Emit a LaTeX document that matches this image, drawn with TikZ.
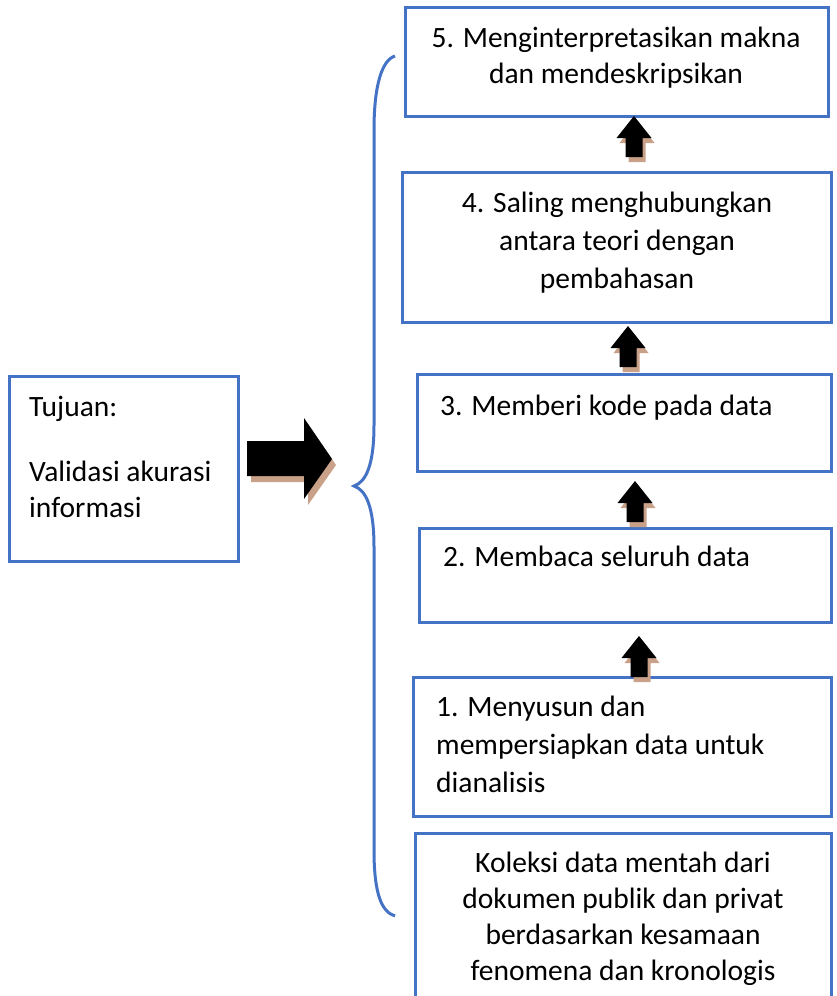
\documentclass[tikz,border=0pt]{standalone}
\usepackage{fontspec}
\setmainfont{Carlito}
\usetikzlibrary{calc}
\definecolor{wordblue}{RGB}{68,114,196}
\definecolor{shadowtan}{RGB}{201,160,136}
\tikzset{
  box/.style={draw=wordblue,line width=3pt,anchor=north west,inner sep=0pt,outer sep=0pt},
  txt/.style={font=\fontsize{29.5}{37}\selectfont,inner sep=0pt},
  pics/uparrow/.style={code={
    \fill[shadowtan,shift={(3,5)}] (-8.5,0)--(-8.5,-19)--(-17.5,-19)--(0,-41)--(17.5,-19)--(8.5,-19)--(8.5,0)--cycle;
    \fill[black] (-8.5,0)--(-8.5,-19)--(-17.5,-19)--(0,-41)--(17.5,-19)--(8.5,-19)--(8.5,0)--cycle;
  }}
}
\begin{document}
\begin{tikzpicture}[x=1pt,y=-1pt]
	\useasboundingbox (0,0) rectangle (836,996);
	\clip (0,0) rectangle (836,996);
	% kotak tujuan
	\node[box,minimum width=229pt,minimum height=185pt] (lb) at (9,376) {};
	\node[txt,anchor=base west,align=left] (lt) at (29,416) {Tujuan:};
	\node[txt,anchor=base west,align=left,font=\fontsize{29.5}{36}\selectfont] (lt2) at (29,517) {Validasi akurasi\\informasi};
	% kotak langkah
	\node[box,minimum width=423pt,minimum height=109pt] (b5) at (405,7) {};
	\node[box,minimum width=429pt,minimum height=150pt] (b4) at (402,172) {};
	\node[box,minimum width=414pt,minimum height=97pt] (b3) at (417,374) {};
	\node[box,minimum width=412pt,minimum height=94pt] (b2) at (419,528) {};
	\node[box,minimum width=418pt,minimum height=139pt] (b1) at (413,677) {};
	\node[box,minimum width=416pt,minimum height=175pt] (b0) at (415,833) {};
	\node[txt,anchor=base,align=center,font=\fontsize{29.5}{35.5}\selectfont] (t5) at (616,83) {5. Menginterpretasikan makna\\dan mendeskripsikan};
	\node[txt,anchor=base,align=center,font=\fontsize{29.5}{38}\selectfont] (t4) at (617,288) {4. Saling menghubungkan\\antara teori dengan\\pembahasan};
	\node[txt,anchor=base west] (t3) at (440,415) {3. Memberi kode pada data};
	\node[txt,anchor=base west] (t2) at (443,566) {2. Membaca seluruh data};
	\node[txt,anchor=base west,align=left,font=\fontsize{29.5}{38}\selectfont] (t1) at (436,792) {1. Menyusun dan\\mempersiapkan data untuk\\dianalisis};
	\node[txt,anchor=base,align=center,font=\fontsize{29.5}{35.7}\selectfont] (t0) at (623,980) {Koleksi data mentah dari\\dokumen publik dan privat\\berdasarkan kesamaan\\fenomena dan kronologis};
	% panah antar langkah
	\pic at ($(b1.north west)+(226,0)$) {uparrow};
	\pic at ($(b3.south west)+(218,51)$) {uparrow};
	\pic at ($(b4.south west)+(226,45)$) {uparrow};
	\pic at ($(b5.south west)+(229,41)$) {uparrow};
	% panah besar
	\fill[shadowtan,shift={(4,6)}] (247,441)--(304,441)--(304,418)--(332,459)--(304,499)--(304,476)--(247,476)--cycle;
	\fill[black] (247,441)--(304,441)--(304,418)--(332,459)--(304,499)--(304,476)--(247,476)--cycle;
	% kurung kurawal
	\draw[wordblue,line width=3pt] (395,56) .. controls (382,60) and (374,85) .. (374,130) -- (374,425)
		.. controls (374,465) and (366,482) .. (354,486) .. controls (366,490) and (374,507) .. (374,547)
		-- (374,850) .. controls (374,895) and (382,912) .. (395,916);
\end{tikzpicture}
\end{document}
